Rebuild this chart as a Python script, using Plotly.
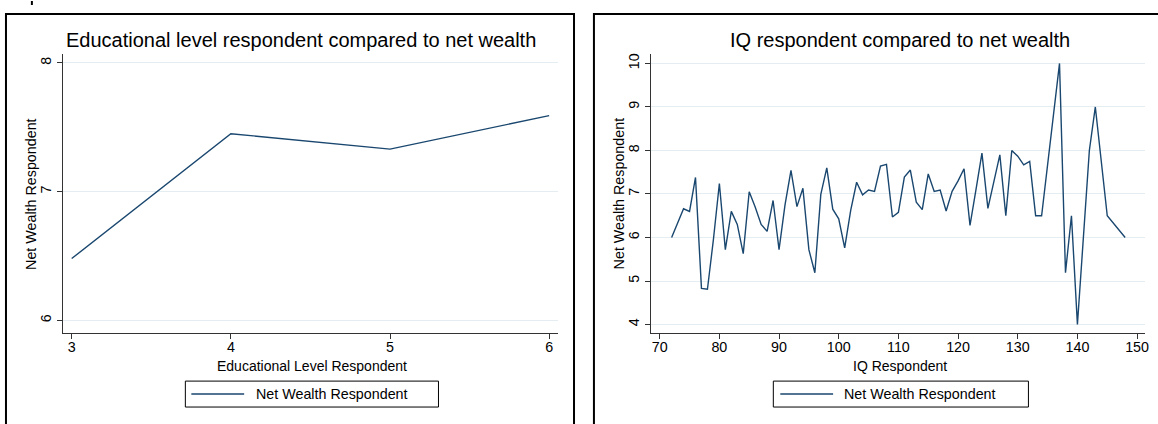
import plotly.graph_objects as go

# Mean net wealth by educational level
edu_levels = [3, 4, 5, 6]
edu_wealth = [6.48, 7.45, 7.33, 7.59]

# Mean net wealth by IQ score
iq_scores = [72, 74, 75, 76, 77, 78, 79, 80, 81, 82, 83, 84, 85, 86, 87, 88, 89, 90,
             91, 92, 93, 94, 95, 96, 97, 98, 99, 100, 101, 102, 103, 104, 105, 106,
             107, 108, 109, 110, 111, 112, 113, 114, 115, 116, 117, 118, 119, 120,
             121, 122, 123, 124, 125, 126, 127, 128, 129, 130, 131, 132, 133, 134,
             137, 138, 139, 140, 142, 143, 145, 148]
iq_wealth = [6.00, 6.66, 6.60, 7.38, 4.83, 4.81, 5.95, 7.24, 5.72, 6.60, 6.30, 5.63,
             7.05, 6.70, 6.30, 6.14, 6.85, 5.72, 6.75, 7.54, 6.71, 7.13, 5.72, 5.19,
             6.99, 7.60, 6.65, 6.43, 5.76, 6.62, 7.27, 6.98, 7.09, 7.06, 7.64, 7.68,
             6.47, 6.58, 7.39, 7.55, 6.81, 6.64, 7.46, 7.06, 7.09, 6.61, 7.06, 7.30,
             7.58, 6.28, 7.10, 7.94, 6.67, 7.30, 7.90, 6.50, 8.00, 7.87, 7.67, 7.75,
             6.50, 6.50, 10.00, 5.19, 6.50, 4.00, 8.00, 9.00, 6.50, 6.00]

edu_ticks = [3, 4, 5, 6]
edu_ytick = [6, 7, 8]
iq_ticks = [70, 80, 90, 100, 110, 120, 130, 140, 150]
iq_ytick = [4, 5, 6, 7, 8, 9, 10]

titles = ["Educational level respondent compared to net wealth",
          "IQ respondent compared to net wealth"]
x_titles = ["Educational Level Respondent", "IQ Respondent"]
y_title = "Net Wealth Respondent"
legend_label = "Net Wealth Respondent"

W, H = 1158, 424
LINE = "#1a476f"
GRID = "#e4edf1"
FONT = "Liberation Sans, Arial, Helvetica, sans-serif"
TXT = 14


def px(x):
    return x / W


def py(y):
    return 1 - y / H


fig = go.Figure()
fig.add_trace(go.Scatter(x=edu_levels, y=edu_wealth, mode="lines",
                         line=dict(color=LINE, width=1.4),
                         xaxis="x", yaxis="y", showlegend=False))
fig.add_trace(go.Scatter(x=iq_scores, y=iq_wealth, mode="lines",
                         line=dict(color=LINE, width=1.4),
                         xaxis="x2", yaxis="y2", showlegend=False))

axis_common = dict(showline=True, linecolor="#333", linewidth=1,
                   ticks="outside", ticklen=5, tickcolor="#333", tickwidth=1,
                   tickfont=dict(family=FONT, size=14.3, color="#000"),
                   zeroline=False, fixedrange=True)
x_extra = dict(ticklabelstandoff=-4)

fig.update_layout(
    width=W, height=H,
    margin=dict(l=0, r=0, t=0, b=0),
    paper_bgcolor="white", plot_bgcolor="white",
    font=dict(family=FONT, color="#000"),
    xaxis=dict(domain=[px(63), px(560)], range=[2.944, 6.056],
               tickvals=edu_ticks, showgrid=False, anchor="y", **axis_common, **x_extra),
    yaxis=dict(domain=[py(333), py(53)], range=[5.90, 8.07],
               tickvals=edu_ytick, showgrid=True, gridcolor=GRID, gridwidth=1,
               tickangle=-90, anchor="x", **axis_common),
    xaxis2=dict(domain=[px(653), px(1149)], range=[68.5, 151.33],
                tickvals=iq_ticks, showgrid=False, anchor="y2", **axis_common, **x_extra),
    yaxis2=dict(domain=[py(333), py(53)], range=[3.80, 10.22],
                tickvals=iq_ytick, showgrid=True, gridcolor=GRID, gridwidth=1,
                tickangle=-90, anchor="x2", **axis_common),
)

shapes = []
annotations = []

# Panel frames (open at the bottom edge of the page)
for x0, x1 in [(6, 576), (596, 1170)]:
    shapes.append(dict(type="rect", xref="paper", yref="paper",
                       x0=px(x0), x1=px(x1), y0=py(440), y1=py(13),
                       line=dict(color="#000", width=2), fillcolor="rgba(0,0,0,0)"))

# Small stroke above the first frame
shapes.append(dict(type="rect", xref="paper", yref="paper",
                   x0=px(31), x1=px(33), y0=py(4), y1=py(0),
                   line=dict(width=0), fillcolor="#000"))

panels = [
    dict(title_x=302.5, ytitle_x=30.5, xtitle_x=313, box=(186, 440), key=(192, 245), text_x=255),
    dict(title_x=903, ytitle_x=621, xtitle_x=903, box=(776, 1032), key=(783, 836), text_x=845),
]

for i, p in enumerate(panels):
    annotations.append(dict(text=titles[i], xref="paper", yref="paper",
                            x=px(p["title_x"]), y=py(39), xanchor="center", yanchor="middle",
                            showarrow=False, font=dict(family=FONT, size=20, color="#000")))
    annotations.append(dict(text=y_title, xref="paper", yref="paper",
                            x=px(p["ytitle_x"]), y=py(193), xanchor="center", yanchor="middle",
                            textangle=-90, showarrow=False,
                            font=dict(family=FONT, size=14.3, color="#000")))
    annotations.append(dict(text=x_titles[i], xref="paper", yref="paper",
                            x=px(p["xtitle_x"]), y=py(366), xanchor="center", yanchor="middle",
                            showarrow=False, font=dict(family=FONT, size=TXT, color="#000")))
    # Legend box
    bx0, bx1 = p["box"]
    shapes.append(dict(type="rect", xref="paper", yref="paper",
                       x0=px(bx0), x1=px(bx1), y0=py(407), y1=py(381),
                       line=dict(color="#000", width=1), fillcolor="white"))
    kx0, kx1 = p["key"]
    shapes.append(dict(type="line", xref="paper", yref="paper",
                       x0=px(kx0), x1=px(kx1), y0=py(394), y1=py(394),
                       line=dict(color=LINE, width=1.4)))
    annotations.append(dict(text=legend_label, xref="paper", yref="paper",
                            x=px(p["text_x"]), y=py(394), xanchor="left", yanchor="middle",
                            showarrow=False, font=dict(family=FONT, size=14.3, color="#000")))

fig.update_layout(shapes=shapes, annotations=annotations)

fig.write_html("out.html")
